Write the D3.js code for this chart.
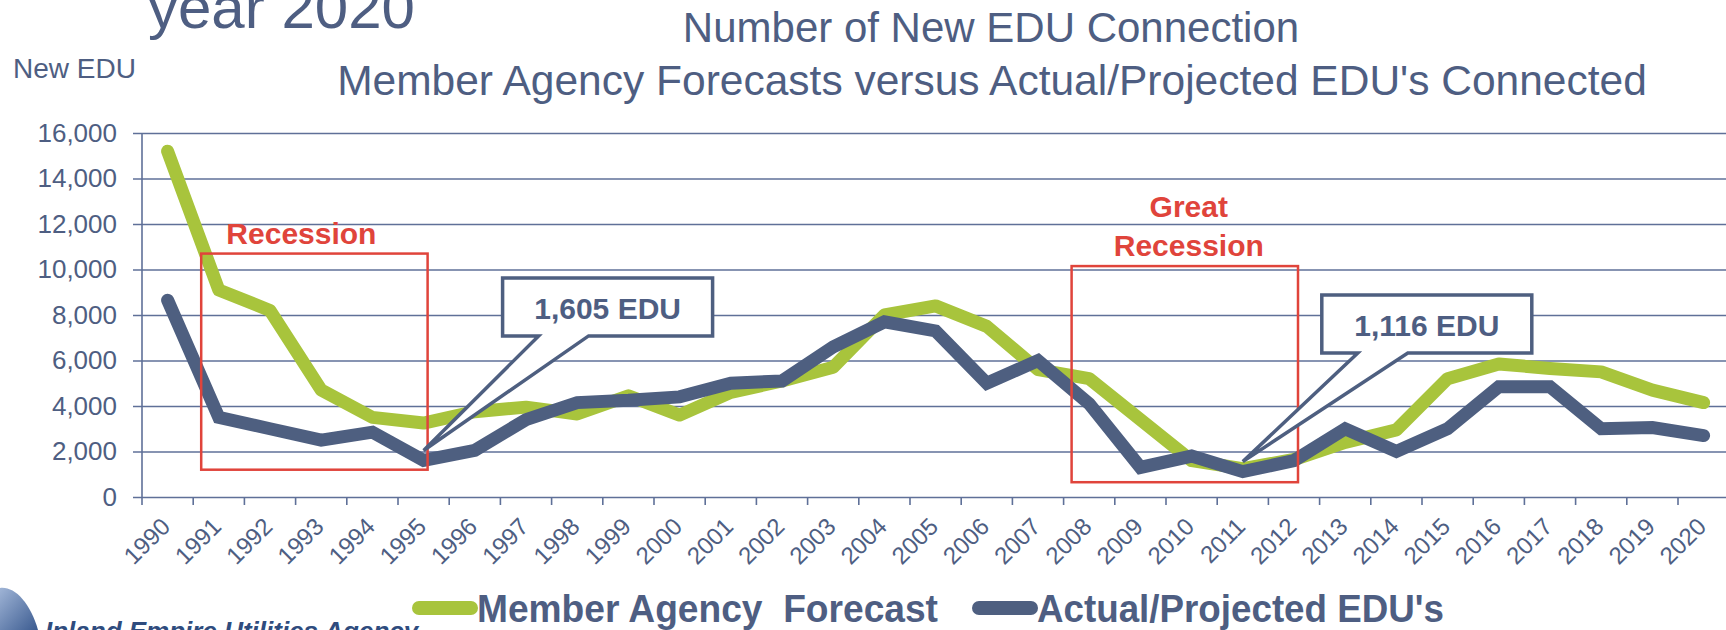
<!DOCTYPE html>
<html>
<head>
<meta charset="utf-8">
<script src="https://cdn.jsdelivr.net/npm/d3@7"></script>
<style>
  body { margin: 0; background: #fff; }
  svg { display: block; }
  text { font-family: "Liberation Sans", Arial, sans-serif; }
</style>
</head>
<body>
<svg id="edu-chart" width="1726" height="630"></svg>
<script>
// chart data
const years = d3.range(1990, 2021).map(String);

const forecastEdu = [
  15200, 9100, 8200, 4700, 3500, 3250, 3750, 3950, 3650, 4450,
  3600, 4600, 5100, 5700, 8000, 8400, 7500, 5600, 5200, 3400,
  1600, 1250, 1650, 2400, 2950, 5200, 5850, 5650, 5500, 4700,
  4150
];

const actualEdu = [
  8650, 3500, 3000, 2500, 2850, 1605, 2050, 3400, 4150, 4250,
  4400, 5000, 5100, 6600, 7700, 7300, 5000, 6000, 4100, 1300,
  1800, 1116, 1600, 3000, 2000, 3000, 4850, 4850, 3000, 3050,
  2700
];

const yTicks = [0, 2000, 4000, 6000, 8000, 10000, 12000, 14000, 16000];

const recessions = [
  { lines: ["Recession"], from: "1991", to: "1995", high: 10700, low: 1200 },
  { lines: ["Great", "Recession"], from: "2008", to: "2012", high: 10150, low: 650 }
];

const callouts = [
  { year: "1995", value: 1605, label: "1,605 EDU", boxTop: 9630 },
  { year: "2011", value: 1116, label: "1,116 EDU", boxTop: 8880 }
];

const legendItems = [
  { label: "Member Agency  Forecast", color: "#a8c43c" },
  { label: "Actual/Projected EDU's", color: "#4e5f80" }
];

const svgElement = document.getElementById("edu-chart");
const svg = d3.select(svgElement);

const W = 1726;
const textColor = "#4e5e82";
const gridColor = "#5f7098";
const red = "#e0443b";

const x = d3.scaleBand().domain(years).range([142, 142 + 31 * 51.2]);
const y = d3.scaleLinear().domain([0, 16000]).range([497, 133]);
const cx = (d) => x(d) + x.bandwidth() / 2;

// titles
svg.append("text")
  .attr("x", 148).attr("y", 28)
  .attr("font-size", 60).attr("fill", textColor)
  .text("year 2020");

svg.append("text")
  .attr("x", 13).attr("y", 78)
  .attr("font-size", 28).attr("fill", textColor)
  .text("New EDU");

svg.append("text")
  .attr("x", 991).attr("y", 42)
  .attr("text-anchor", "middle")
  .attr("font-size", 42).attr("fill", textColor)
  .text("Number of New EDU Connection");

svg.append("text")
  .attr("x", 992).attr("y", 95)
  .attr("text-anchor", "middle")
  .attr("font-size", 42.5).attr("fill", textColor)
  .text("Member Agency Forecasts versus Actual/Projected EDU's Connected");

// y axis + gridlines
const yAxis = svg.append("g")
  .attr("transform", "translate(142,0)")
  .call(d3.axisLeft(y).tickValues(yTicks).tickFormat(d3.format(","))
    .tickSize(-(W - 142)).tickPadding(25));
yAxis.select(".domain").remove();
yAxis.selectAll(".tick line")
  .attr("x1", -9)
  .attr("stroke", gridColor)
  .attr("stroke-width", 1.6);
yAxis.selectAll(".tick text")
  .attr("font-size", 26)
  .attr("fill", textColor)
  .attr("font-family", "'Liberation Sans', Arial, sans-serif");

svg.append("line")
  .attr("x1", 142).attr("x2", 142)
  .attr("y1", y(16000)).attr("y2", y(0))
  .attr("stroke", gridColor).attr("stroke-width", 1.6);

// x axis: ticks between categories, rotated labels
const xAxis = svg.append("g")
  .attr("transform", `translate(0,${y(0)})`)
  .call(d3.axisBottom(x).tickSize(0).tickPadding(0));
xAxis.select(".domain").remove();
xAxis.selectAll(".tick text")
  .attr("font-size", 24)
  .attr("fill", textColor)
  .attr("font-family", "'Liberation Sans', Arial, sans-serif")
  .attr("text-anchor", "end")
  .attr("dy", null)
  .attr("y", 0)
  .attr("transform", "translate(4,31) rotate(-45)");

svg.append("g")
  .selectAll("line")
  .data(years.concat(["end"]))
  .join("line")
  .attr("x1", (d, i) => x.range()[0] + i * x.bandwidth())
  .attr("x2", (d, i) => x.range()[0] + i * x.bandwidth())
  .attr("y1", y(0)).attr("y2", y(0) + 8)
  .attr("stroke", gridColor).attr("stroke-width", 1.6);

// series
const line = d3.line()
  .x((d, i) => cx(years[i]))
  .y((d) => y(d));

svg.append("path")
  .datum(forecastEdu)
  .attr("fill", "none")
  .attr("stroke", "#a8c43c")
  .attr("stroke-width", 13)
  .attr("stroke-linecap", "round")
  .attr("stroke-linejoin", "round")
  .attr("d", line);

svg.append("path")
  .datum(actualEdu)
  .attr("fill", "none")
  .attr("stroke", "#4e5f80")
  .attr("stroke-width", 13)
  .attr("stroke-linecap", "round")
  .attr("stroke-linejoin", "miter")
  .attr("d", line);

// recession boxes
const recessionLabelShift = [-13, 4];
recessions.forEach((r, k) => {
  const left = x(r.from) + 8;
  const right = cx(r.to) + 4;
  svg.append("rect")
    .attr("x", left).attr("y", y(r.high))
    .attr("width", right - left)
    .attr("height", y(r.low) - y(r.high))
    .attr("fill", "none")
    .attr("stroke", red)
    .attr("stroke-width", 2.5);

  const n = r.lines.length;
  r.lines.forEach((t, i) => {
    svg.append("text")
      .attr("x", (left + right) / 2 + recessionLabelShift[k])
      .attr("y", y(r.high) - 10 - (n - 1 - i) * 39)
      .attr("text-anchor", "middle")
      .attr("font-size", 30)
      .attr("font-weight", "bold")
      .attr("fill", red)
      .text(t);
  });
});

// callouts pointing at the lows
callouts.forEach((c) => {
  const tipX = cx(c.year);
  const tipY = y(c.value) - 10;
  const bx = tipX + 79;
  const by = y(c.boxTop);
  const bw = 210, bh = 58;
  const path = d3.path();
  path.moveTo(bx, by);
  path.lineTo(bx + bw, by);
  path.lineTo(bx + bw, by + bh);
  path.lineTo(bx + 86, by + bh);
  path.lineTo(tipX, tipY);
  path.lineTo(bx + 36, by + bh);
  path.lineTo(bx, by + bh);
  path.closePath();
  svg.append("path")
    .attr("d", path.toString())
    .attr("fill", "#fff")
    .attr("stroke", "#4e5f80")
    .attr("stroke-width", 3.5)
    .attr("stroke-linejoin", "miter");
  svg.append("text")
    .attr("x", bx + bw / 2)
    .attr("y", by + 41)
    .attr("text-anchor", "middle")
    .attr("font-size", 30)
    .attr("font-weight", "bold")
    .attr("fill", textColor)
    .text(c.label);
});

// legend
const legendX = [413, 973];
const legendTextWidth = [461, 407];
legendItems.forEach((item, i) => {
  svg.append("line")
    .attr("x1", legendX[i] + 6).attr("x2", legendX[i] + 58)
    .attr("y1", 608).attr("y2", 608)
    .attr("stroke", item.color)
    .attr("stroke-width", 14)
    .attr("stroke-linecap", "round");
  svg.append("text")
    .attr("x", legendX[i] + 64)
    .attr("y", 622)
    .attr("font-size", 38)
    .attr("font-weight", "bold")
    .attr("fill", textColor)
    .attr("textLength", legendTextWidth[i])
    .attr("lengthAdjust", "spacingAndGlyphs")
    .style("white-space", "pre")
    .text(item.label);
});

// agency logo fragment, bottom left
const logoGrad = svg.append("defs").append("linearGradient")
  .attr("id", "logo-grad").attr("x1", 0).attr("x2", 1).attr("y1", 0).attr("y2", 1);
logoGrad.append("stop").attr("offset", 0).attr("stop-color", "#9fb4d6");
logoGrad.append("stop").attr("offset", 1).attr("stop-color", "#3b5b90");
svg.append("path")
  .attr("d", "M0,588 C14,586 30,602 38,630 L0,630 Z")
  .attr("fill", "url(#logo-grad)");
svg.append("text")
  .attr("x", 45).attr("y", 640)
  .attr("font-size", 26)
  .attr("font-weight", "bold")
  .attr("font-style", "italic")
  .attr("fill", "#2f4c7e")
  .text("Inland Empire Utilities Agency");
</script>
</body>
</html>
